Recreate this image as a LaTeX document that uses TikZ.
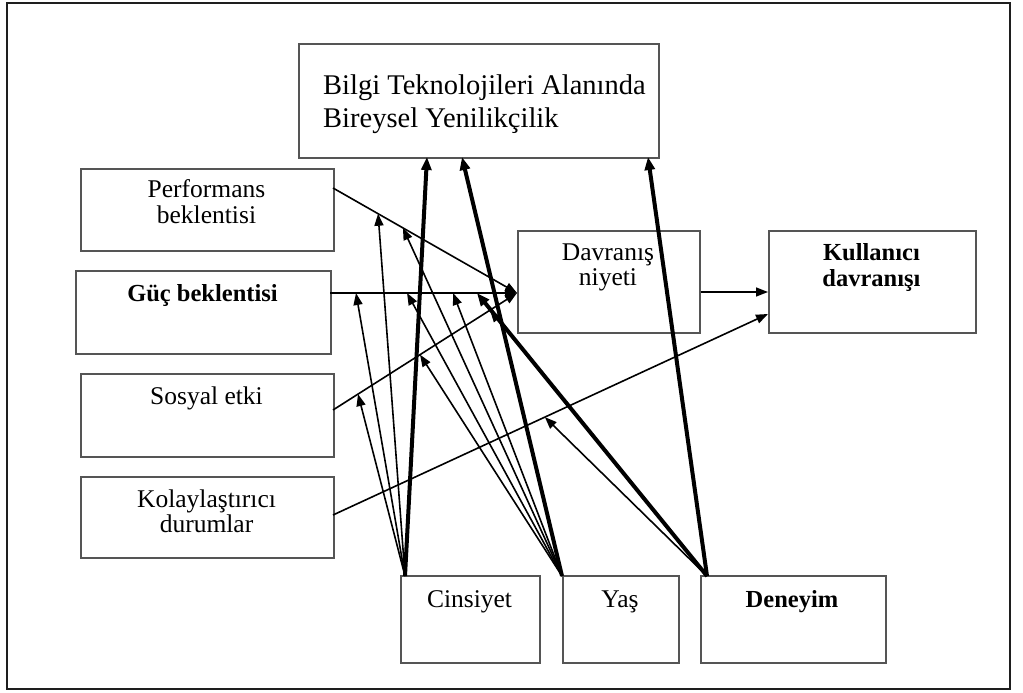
\documentclass[tikz,border=0pt]{standalone}
\usepackage{fontspec}
\setmainfont{Liberation Serif}
\usetikzlibrary{arrows.meta}

\definecolor{boxgray}{HTML}{555555}
\definecolor{framegray}{HTML}{1E1E1E}

\begin{document}
\begin{tikzpicture}[x=1bp,y=-1bp,
  box/.style={draw=boxgray, line width=1.7bp, rectangle, inner sep=0pt, anchor=north west},
  lbl/.style={font=\fontsize{25.5bp}{25bp}\selectfont, align=center, anchor=base, inner sep=0pt},
  lblb/.style={lbl, font=\fontsize{24.5bp}{26bp}\selectfont\bfseries},
  conn/.style={line width=1.6bp, -{Triangle[length=12bp,width=9bp]}},
  heavy/.style={line width=4bp, -{Triangle[length=13bp,width=10bp]}},
]
\useasboundingbox (0,0) rectangle (1023,693);
\draw[framegray, line width=2.5bp] (7,3) rectangle (1010,689);

% construct boxes
\node[box, minimum width=360bp, minimum height=114bp] (bta) at (298,43) {};
\node[box, minimum width=253bp, minimum height=82bp]  (pe)  at (80,168) {};
\node[box, minimum width=255bp, minimum height=83bp]  (ee)  at (75,270) {};
\node[box, minimum width=253bp, minimum height=83bp]  (si)  at (80,373) {};
\node[box, minimum width=253bp, minimum height=81bp]  (fc)  at (80,476) {};
\node[box, minimum width=182bp, minimum height=102bp] (dn)  at (517,230) {};
\node[box, minimum width=207bp, minimum height=102bp] (kd)  at (768,230) {};
\node[box, minimum width=139bp, minimum height=87bp]  (cin) at (400,575) {};
\node[box, minimum width=116bp, minimum height=87bp]  (yas) at (562,575) {};
\node[box, minimum width=185bp, minimum height=87bp]  (den) at (700,575) {};

% box texts (base = baseline of the last line)
\node[lbl, anchor=base west, align=left, font=\fontsize{28.5bp}{33bp}\selectfont] (btat) at (323,128)
  {Bilgi Teknolojileri Alanında\\Bireysel Yenilikçilik};
\node[lbl]  (pet)  at (206.5,223) {Performans\\beklentisi};
\node[lblb] (eet)  at (202.5,301) {Güç beklentisi};
\node[lbl]  (sit)  at (206.5,404) {Sosyal etki};
\node[lbl]  (fct)  at (206.5,532) {Kolaylaştırıcı\\durumlar};
\node[lbl]  (dnt)  at (608,285) {Davranış\\niyeti};
\node[lblb] (kdt)  at (871.5,286) {Kullanıcı\\davranışı};
\node[lbl]  (cint) at (469.5,607) {Cinsiyet};
\node[lbl]  (yast) at (620,607) {Yaş};
\node[lblb] (dent) at (792,607) {Deneyim};

% end points of the main paths
\coordinate (peS) at (333,188);
\coordinate (eeS) at (330,293);
\coordinate (siS) at (333,410);
\coordinate (fcS) at (333,515);
\coordinate (hub) at (517,293);
\coordinate (kdA) at (768,292);
\coordinate (kdB) at (768,314);

% main paths, with points where moderators attach
\draw[conn] (peS) -- (hub) coordinate[pos=0.245] (pe1) coordinate[pos=0.38] (pe2);
\draw[conn] (eeS) -- (hub) coordinate[pos=0.139] (ee1) coordinate[pos=0.412] (ee2)
                           coordinate[pos=0.658] (ee3) coordinate[pos=0.786] (ee4);
\draw[conn] (siS) -- (hub) coordinate[pos=0.136] (si1) coordinate[pos=0.473] (si2)
                           coordinate[pos=0.853] (si3);
\draw[conn] (fcS) -- (kdB) coordinate[pos=0.487] (fc1);
\draw[conn] (dn.east |- kdA) -- (kdA);

% moderator origins and targets on the top box
\coordinate (cinO) at (405,576);
\coordinate (yasO) at (562,576);
\coordinate (denO) at (707,576);
\coordinate (bt1) at (427,157);
\coordinate (bt2) at (462,157);
\coordinate (bt3) at (648,157);

% gender
\draw[conn] (cinO) -- (pe1);
\draw[conn] (cinO) -- (ee1);
\draw[conn] (cinO) -- (si1);
\draw[heavy] (cinO) -- (bt1);
% age
\draw[conn] (yasO) -- (pe2);
\draw[conn] (yasO) -- (ee2);
\draw[conn] (yasO) -- (si2);
\draw[conn] (yasO) -- (ee3);
\draw[heavy] (yasO) -- (bt2);
% experience
\draw[conn] (denO) -- (fc1);
\draw[conn] (denO) -- (si3);
\draw[heavy] (denO) -- (ee4);
\draw[heavy] (denO) -- (bt3);
\end{tikzpicture}
\end{document}
